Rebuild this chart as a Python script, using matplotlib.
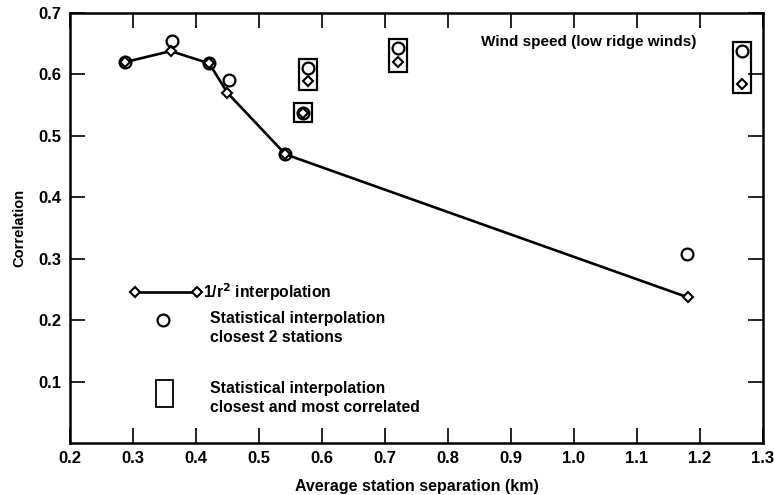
import matplotlib.pyplot as plt
from matplotlib.patches import Rectangle

plt.rcParams['font.family'] = ['Liberation Sans', 'DejaVu Sans']
plt.rcParams['font.weight'] = 'bold'

# 1/r^2 interpolation (line with diamonds)
sep_line = [0.287, 0.360, 0.421, 0.450, 0.542, 1.181]
corr_line = [0.620, 0.638, 0.618, 0.570, 0.470, 0.237]

# statistical interpolation, closest 2 stations (circles)
sep_circ = [0.287, 0.362, 0.421, 0.453, 0.542, 1.180]
corr_circ = [0.620, 0.655, 0.618, 0.591, 0.470, 0.308]

# closest and most correlated (boxed pairs: circle over diamond)
sep_box = [0.570, 0.578, 0.721, 1.267]
corr_box_circ = [0.538, 0.610, 0.643, 0.638]
corr_box_diam = [0.538, 0.590, 0.620, 0.585]

fig = plt.figure(figsize=(7.74, 4.95), dpi=100)
ax = fig.add_axes([0.0904, 0.105, 0.8954, 0.8687])

ax.plot(sep_line, corr_line, color='black', lw=1.9, marker='D', ms=5.5,
        mfc='white', mec='black', mew=1.5, zorder=3)
ax.plot(sep_circ, corr_circ, ls='none', marker='o', ms=8.5,
        mfc='none', mec='black', mew=1.6, zorder=4)
ax.plot(sep_box, corr_box_circ, ls='none', marker='o', ms=8.5,
        mfc='none', mec='black', mew=1.6, zorder=4)
ax.plot(sep_box, corr_box_diam, ls='none', marker='D', ms=5.5,
        mfc='white', mec='black', mew=1.5, zorder=4)

# boxes around the pairs
padx, pady = 0.014, 0.0155
for x, yc, yd in zip(sep_box, corr_box_circ, corr_box_diam):
    lo, hi = min(yc, yd) - pady, max(yc, yd) + pady
    ax.add_patch(Rectangle((x - padx, lo), 2 * padx, hi - lo, fill=False,
                           ec='black', lw=1.6, zorder=5))

ax.text(0.852, 0.653, 'Wind speed (low ridge winds)', fontsize=11,
        fontweight='bold', va='center', ha='left')

# hand-made legend
fs = 11.3
ax.plot([0.303, 0.402], [0.246, 0.246], color='black', lw=1.9, marker='D',
        ms=5.5, mfc='white', mec='black', mew=1.5)
ax.text(0.411, 0.246, '1/r$^\\mathbf{2}$ interpolation', fontsize=fs,
        va='center', ha='left')
ax.plot([0.348], [0.201], ls='none', marker='o', ms=8.5, mfc='none',
        mec='black', mew=1.6)
ax.text(0.422, 0.202, 'Statistical interpolation', fontsize=fs, va='center')
ax.text(0.422, 0.171, 'closest 2 stations', fontsize=fs, va='center')
ax.add_patch(Rectangle((0.337, 0.059), 0.027, 0.044, fill=False,
                       ec='black', lw=1.3))
ax.text(0.422, 0.0895, 'Statistical interpolation', fontsize=fs, va='center')
ax.text(0.422, 0.058, 'closest and most correlated', fontsize=fs, va='center')

ax.set_xlim(0.2, 1.3)
ax.set_ylim(0, 0.7)
ax.set_xticks([0.2, 0.3, 0.4, 0.5, 0.6, 0.7, 0.8, 0.9, 1.0, 1.1, 1.2, 1.3])
ax.set_xticklabels(['0.2', '0.3', '0.4', '0.5', '0.6', '0.7', '0.8', '0.9',
                    '1.0', '1.1', '1.2', '1.3'])
ax.set_yticks([0.1, 0.2, 0.3, 0.4, 0.5, 0.6, 0.7])
ax.set_yticklabels(['0.1', '0.2', '0.3', '0.4', '0.5', '0.6', '0.7'])
ax.tick_params(direction='in', length=11, width=1.2, top=True, right=True,
               labelsize=12, pad=6)
for s in ax.spines.values():
    s.set_linewidth(1.8)

ax.set_xlabel('Average station separation (km)', fontsize=11.5,
              fontweight='bold', labelpad=9)
ax.set_ylabel('Correlation', fontsize=10.5, fontweight='bold', labelpad=9)

fig.savefig('out.png', dpi=100)
